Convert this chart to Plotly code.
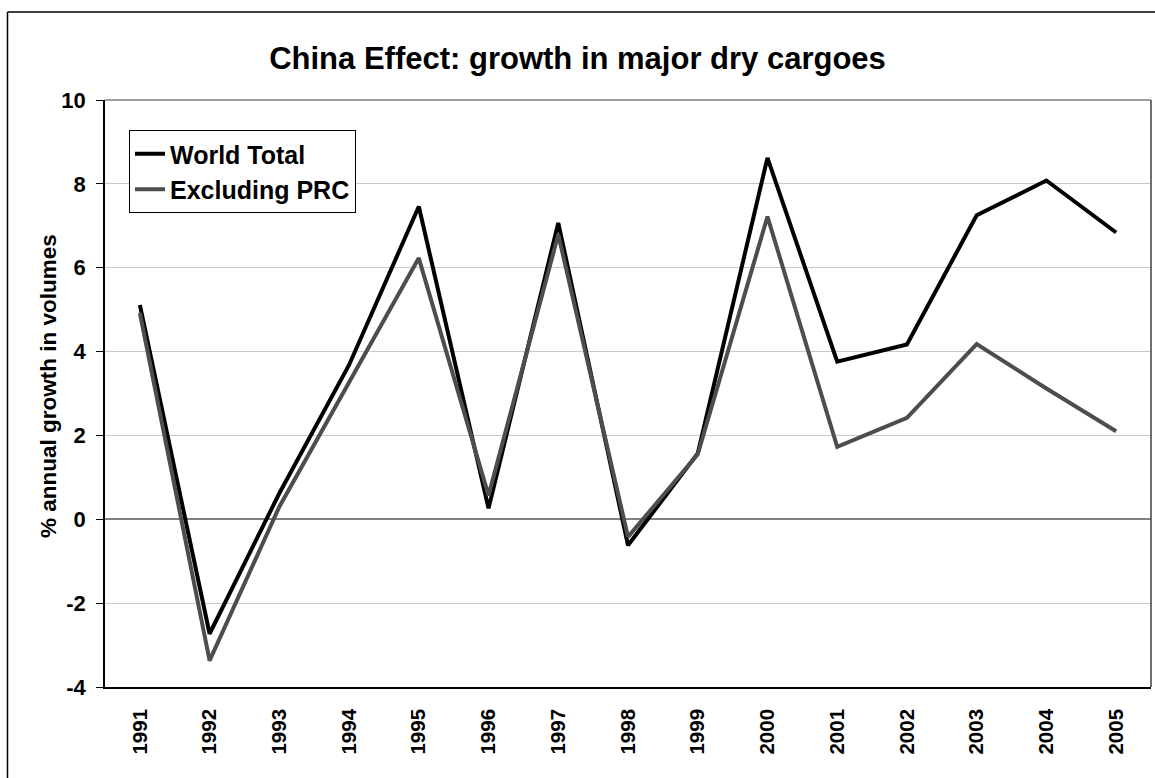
import plotly.graph_objects as go

years = ["1991", "1992", "1993", "1994", "1995", "1996", "1997", "1998",
         "1999", "2000", "2001", "2002", "2003", "2004", "2005"]
world_total = [5.11, -2.73, 0.62, 3.68, 7.46, 0.26, 7.07, -0.62,
               1.57, 8.62, 3.76, 4.17, 7.25, 8.08, 6.84]
excluding_prc = [4.92, -3.37, 0.30, 3.25, 6.23, 0.57, 6.79, -0.42,
                 1.55, 7.22, 1.73, 2.42, 4.18, 3.12, 2.10]
y_ticks = [-4, -2, 0, 2, 4, 6, 8, 10]
y_tick_labels = ["-4", "-2", "0", "2", "4", "6", "8", "10"]

FONT = "Liberation Sans, Arial, sans-serif"

fig = go.Figure()
fig.add_trace(go.Scatter(x=years, y=world_total, mode="lines", name="World Total",
                         line=dict(color="#000000", width=4)))
fig.add_trace(go.Scatter(x=years, y=excluding_prc, mode="lines", name="Excluding PRC",
                         line=dict(color="#4d4d4d", width=4)))

L, R, T, B = 105, 4, 100, 91
W, H = 1155, 778
pw = W - L - R
ph = H - T - B

def px_x(p):
    return (p - L) / pw

def px_y(p):
    return (H - B - p) / ph

fig.update_layout(
    width=W, height=H,
    margin=dict(l=L, r=R, t=T, b=B, pad=0),
    paper_bgcolor="white", plot_bgcolor="white",
    font=dict(family=FONT, color="black"),
    title=dict(text="China Effect: growth in major dry cargoes",
               x=0.5, xref="container", xanchor="center",
               y=1 - 58 / H, yanchor="middle",
               font=dict(size=31, family=FONT, color="black", weight="bold")),
    showlegend=True,
    legend=dict(x=px_x(129), y=px_y(130), xanchor="left", yanchor="top",
                bgcolor="white", bordercolor="black", borderwidth=1,
                font=dict(size=25, family=FONT, color="black", weight="bold"),
                tracegroupgap=0, itemwidth=30),
    xaxis=dict(type="category", showgrid=False, showline=True, linecolor="black",
               linewidth=1.5, ticks="", tickangle=-90, ticklabelstandoff=12,
               tickfont=dict(size=20.5, family=FONT, color="black", weight="bold"),
               range=[-0.5, 14.5]),
    yaxis=dict(range=[-4, 10], tickvals=y_ticks, ticktext=y_tick_labels,
               showgrid=True, gridcolor="#c8c8c8",
               gridwidth=1, zeroline=True, zerolinecolor="#808080", zerolinewidth=1.5,
               showline=True, linecolor="black", linewidth=1.5,
               ticks="outside", ticklen=7, tickcolor="black", ticklabelstandoff=6,
               tickfont=dict(size=22, family=FONT, color="black", weight="bold")),
    annotations=[
        dict(text="<b>% annual growth in volumes</b>", xref="paper", yref="paper",
             x=px_x(48), y=px_y(386), xanchor="center", yanchor="middle",
             textangle=-90, showarrow=False,
             font=dict(size=22.5, family=FONT, color="black", weight="bold")),
    ],
    shapes=[
        dict(type="line", xref="paper", yref="paper", x0=0, x1=1, y0=1, y1=1,
             line=dict(color="#808080", width=1.5)),
        dict(type="line", xref="paper", yref="paper", x0=1, x1=1, y0=0, y1=1,
             line=dict(color="#404040", width=1.5)),
        dict(type="line", xref="paper", yref="paper", x0=px_x(7.5), x1=px_x(7.5),
             y0=px_y(12), y1=px_y(790), line=dict(color="black", width=1.5)),
        dict(type="line", xref="paper", yref="paper", x0=px_x(7.5), x1=px_x(1170),
             y0=px_y(12), y1=px_y(12), line=dict(color="black", width=1.5)),
    ],
)

fig.write_html("out.html")
